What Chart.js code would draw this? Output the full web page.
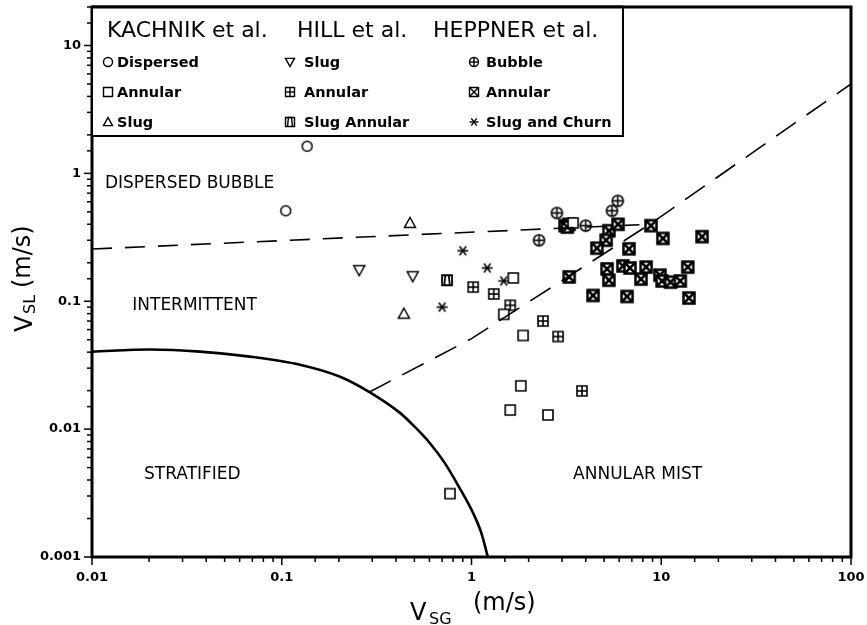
<!DOCTYPE html>
<html>
<head>
<meta charset="utf-8">
<script src="https://cdn.jsdelivr.net/npm/chart.js@4.4.1/dist/chart.umd.min.js"></script>
<style>
  body { margin: 0; background: #fff; }
  #wrap { width: 867px; height: 625px; }
</style>
</head>
<body>
<div id="wrap"><canvas id="mapa" width="867" height="625"></canvas></div>
<script>
// puntos [Vsg, Vsl] en m/s
const kachnikDispersed = [[0.136, 1.63], [0.105, 0.51]];
const kachnikAnnular = [[1.66, 0.152], [1.48, 0.079], [1.87, 0.054], [1.82, 0.0218], [1.60, 0.0141], [2.53, 0.0129], [0.77, 0.00313], [3.43, 0.41]];
const kachnikSlug = [[0.474, 0.41], [0.44, 0.080]];
const hillSlug = [[0.256, 0.175], [0.49, 0.157]];
const hillAnnular = [[1.02, 0.129], [1.31, 0.114], [1.60, 0.093], [2.38, 0.070], [2.86, 0.053], [3.82, 0.0199]];
const hillSlugAnnular = [[0.743, 0.146]];
const hillSlugChurn = [[0.90, 0.248], [1.21, 0.182], [1.48, 0.144], [0.70, 0.090]];
const heppnerBubble = [[2.82, 0.49], [5.5, 0.51], [5.9, 0.61], [4.0, 0.39], [2.27, 0.30]];
const heppnerAnnular = [[3.11, 0.39], [3.27, 0.40], [3.2, 0.38], [5.30, 0.356], [5.92, 0.40], [5.12, 0.30], [4.58, 0.26],
  [8.83, 0.39], [6.76, 0.257], [10.2, 0.31], [16.4, 0.32], [3.27, 0.155], [5.18, 0.179], [5.30, 0.146], [6.28, 0.189],
  [6.84, 0.182], [8.32, 0.185], [7.82, 0.149], [9.84, 0.160], [10.1, 0.144], [11.2, 0.141], [12.6, 0.144], [13.8, 0.185],
  [4.37, 0.111], [6.60, 0.109], [14.0, 0.106]];

// fronteras entre regimenes
const bubbleLimit = [[0.01, 0.256], [8.7, 0.40]];
const annularLimit = [[0.29, 0.0195], [1.0, 0.051], [8.7, 0.40], [100, 5.0]];
const stratLimit = [[0.01, 0.0404], [0.0202, 0.0419], [0.0371, 0.0404], [0.0681, 0.0369], [0.1247, 0.0319], [0.203, 0.0257],
  [0.29, 0.0195], [0.42, 0.0134], [0.503, 0.0104], [0.604, 0.00776], [0.725, 0.0054], [0.869, 0.00343],
  [1.018, 0.00222], [1.122, 0.00157], [1.22, 0.001]];

const xTicks = [0.01, 0.1, 1, 10, 100];
const xTickLabels = ['0.01', '0.1', '1', '10', '100'];
const yTicks = [0.001, 0.01, 0.1, 1, 10];
const yTickLabels = ['0.001', '0.01', '0.1', '1', '10'];

const regionLabels = [
  { text: 'DISPERSED BUBBLE', x: 0.0117, y: 0.773 },
  { text: 'INTERMITTENT', x: 0.0163, y: 0.0847 },
  { text: 'STRATIFIED', x: 0.0188, y: 0.00406 },
  { text: 'ANNULAR MIST', x: 3.43, y: 0.00406 }
];

const toXY = arr => arr.map(([x, y]) => ({ x, y }));
const isMajor = v => Math.abs(Math.log10(v) - Math.round(Math.log10(v))) < 1e-6;
function tickLabel(v, ticks, labels) {
  const i = ticks.findIndex(t => Math.abs(t - v) / t < 1e-6);
  return i >= 0 ? labels[i] : '';
}

// simbolos
function marker(kind, s, lw) {
  const n = Math.ceil(s + lw * 2 + 4);
  const c = document.createElement('canvas');
  c.width = n; c.height = n;
  const g = c.getContext('2d');
  const m = n / 2, h = s / 2;
  g.strokeStyle = '#000'; g.fillStyle = '#fff'; g.lineWidth = lw;
  g.lineJoin = 'miter';
  const seg = (x1, y1, x2, y2) => { g.beginPath(); g.moveTo(x1, y1); g.lineTo(x2, y2); g.stroke(); };
  if (kind === 'circle' || kind === 'circlePlus') {
    g.beginPath(); g.arc(m, m, h, 0, Math.PI * 2); g.fill(); g.stroke();
    if (kind === 'circlePlus') { seg(m - h, m, m + h, m); seg(m, m - h, m, m + h); }
  } else if (kind === 'triUp' || kind === 'triDown') {
    const d = kind === 'triUp' ? 1 : -1;
    g.beginPath();
    g.moveTo(m, m - d * h); g.lineTo(m + h, m + d * h * 0.8); g.lineTo(m - h, m + d * h * 0.8); g.closePath();
    g.fill(); g.stroke();
  } else if (kind === 'star') {
    const r = h;
    seg(m - r, m, m + r, m);
    seg(m - r * 0.6, m - r * 0.8, m + r * 0.6, m + r * 0.8);
    seg(m - r * 0.6, m + r * 0.8, m + r * 0.6, m - r * 0.8);
  } else {
    g.beginPath(); g.rect(m - h, m - h, s, s); g.fill(); g.stroke();
    if (kind === 'squarePlus') { seg(m - h, m, m + h, m); seg(m, m - h, m, m + h); }
    if (kind === 'squareX') { seg(m - h, m - h, m + h, m + h); seg(m - h, m + h, m + h, m - h); }
    if (kind === 'squareTri') {
      g.beginPath(); g.moveTo(m - h * 0.55, m + h); g.lineTo(m - h * 0.35, m - h); g.lineTo(m + h * 0.35, m - h); g.lineTo(m + h * 0.55, m + h); g.stroke();
    }
  }
  return c;
}

const series = [
  { data: kachnikDispersed, kind: 'circle', s: 10, lw: 1.5 },
  { data: kachnikAnnular, kind: 'square', s: 10, lw: 1.6 },
  { data: kachnikSlug, kind: 'triUp', s: 11, lw: 1.5 },
  { data: hillSlug, kind: 'triDown', s: 11, lw: 1.5 },
  { data: hillAnnular, kind: 'squarePlus', s: 10, lw: 1.6 },
  { data: hillSlugAnnular, kind: 'squareTri', s: 10, lw: 1.8 },
  { data: hillSlugChurn, kind: 'star', s: 11, lw: 1.6 },
  { data: heppnerBubble, kind: 'circlePlus', s: 11, lw: 1.6 },
  { data: heppnerAnnular, kind: 'squareX', s: 11, lw: 2.5 }
];

const lineSets = [
  { data: toXY(stratLimit), borderColor: '#000', borderWidth: 2.6, showLine: true, pointRadius: 0, cubicInterpolationMode: 'monotone', fill: false },
  { data: toXY(bubbleLimit), borderColor: '#000', borderWidth: 1.6, borderDash: [20, 13], showLine: true, pointRadius: 0, fill: false },
  { data: toXY(annularLimit), borderColor: '#000', borderWidth: 1.6, borderDash: [24, 13], showLine: true, pointRadius: 0, fill: false }
];

const pointSets = series.map(s => ({
  data: toXY(s.data),
  pointStyle: marker(s.kind, s.s, s.lw),
  pointRadius: 6,
  showLine: false
}));

const legendCols = [
  { head: 'KACHNIK et al.', hx: 107, sx: 108, tx: 117, items: [['circle', 'Dispersed'], ['square', 'Annular'], ['triUp', 'Slug']] },
  { head: 'HILL et al.', hx: 297, sx: 290, tx: 304, items: [['triDown', 'Slug'], ['squarePlus', 'Annular'], ['squareTri', 'Slug Annular']] },
  { head: 'HEPPNER et al.', hx: 433, sx: 474, tx: 486, items: [['circlePlus', 'Bubble'], ['squareX', 'Annular'], ['star', 'Slug and Churn']] }
];

const decor = {
  id: 'decor',
  afterDraw(chart) {
    const { ctx, chartArea: a, scales: { x, y } } = chart;
    ctx.save();
    ctx.strokeStyle = '#000';
    ctx.fillStyle = '#000';
    const seg = (x1, y1, x2, y2) => { ctx.beginPath(); ctx.moveTo(x1, y1); ctx.lineTo(x2, y2); ctx.stroke(); };
    // marcas de los ejes
    ctx.lineWidth = 1.5;
    x.ticks.forEach(t => {
      const px = x.getPixelForValue(t.value);
      seg(px, a.bottom, px, a.bottom + (isMajor(t.value) ? 8 : 5));
    });
    y.ticks.forEach(t => {
      const py = y.getPixelForValue(t.value);
      seg(a.left, py, a.left - (isMajor(t.value) ? 8 : 5), py);
    });
    // marco
    ctx.lineWidth = 3;
    ctx.strokeRect(a.left, a.top, a.right - a.left, a.bottom - a.top);
    // regiones
    ctx.font = '17px "DejaVu Sans"';
    ctx.textBaseline = 'alphabetic';
    regionLabels.forEach(r => ctx.fillText(r.text, x.getPixelForValue(r.x), y.getPixelForValue(r.y)));
    // leyenda
    const bx = a.left, by = a.top, bw = 531, bh = 129;
    ctx.fillStyle = '#fff';
    ctx.fillRect(bx, by, bw, bh);
    ctx.lineWidth = 2;
    ctx.strokeRect(bx, by, bw, bh);
    ctx.lineWidth = 3;
    seg(a.left, by, bx + bw, by);
    ctx.fillStyle = '#000';
    ctx.font = '22px "DejaVu Sans"';
    legendCols.forEach(col => ctx.fillText(col.head, col.hx, 37));
    ctx.font = 'bold 14.5px "DejaVu Sans"';
    ctx.textBaseline = 'middle';
    legendCols.forEach(col => {
      col.items.forEach(([kind, label], i) => {
        const cy = 62 + i * 30;
        const img = marker(kind, 9, 1.4);
        ctx.drawImage(img, col.sx - img.width / 2, cy - img.height / 2);
        ctx.fillText(label, col.tx, cy + 1);
      });
    });
    // titulos de ejes
    ctx.textBaseline = 'alphabetic';
    ctx.font = '24px "DejaVu Sans"';
    ctx.fillText('V', 410, 620);
    ctx.fillText('(m/s)', 473, 610);
    ctx.font = '16px "DejaVu Sans"';
    ctx.fillText('SG', 429, 624);
    ctx.save();
    ctx.translate(32, 332);
    ctx.rotate(-Math.PI / 2);
    ctx.font = '24px "DejaVu Sans"';
    ctx.fillText('V', 0, 0);
    ctx.fillText('(m/s)', 44, -2);
    ctx.font = '16px "DejaVu Sans"';
    ctx.fillText('SL', 18, 3);
    ctx.restore();
    ctx.restore();
  }
};

new Chart(document.getElementById('mapa'), {
  type: 'scatter',
  data: { datasets: [...lineSets, ...pointSets] },
  options: {
    responsive: false,
    animation: false,
    events: [],
    layout: { padding: { top: 6, right: 16, left: 0, bottom: 0 } },
    plugins: { legend: { display: false }, tooltip: { enabled: false } },
    scales: {
      x: {
        type: 'logarithmic', min: 0.01, max: 100,
        grid: { display: false, drawTicks: false }, border: { display: false },
        afterFit: s => { s.height = 68; s.paddingLeft = 0; s.paddingRight = 0; },
        ticks: {
          autoSkip: false, maxRotation: 0, padding: 13, color: '#000',
          font: { family: 'DejaVu Sans', size: 13, weight: 'bold' },
          callback: v => tickLabel(v, xTicks, xTickLabels)
        }
      },
      y: {
        type: 'logarithmic', min: 0.001, max: 20,
        grid: { display: false, drawTicks: false }, border: { display: false },
        afterFit: s => { s.width = 92; s.paddingTop = 0; s.paddingBottom = 0; },
        ticks: {
          autoSkip: false, padding: 11, color: '#000',
          font: { family: 'DejaVu Sans', size: 13, weight: 'bold' },
          callback: v => tickLabel(v, yTicks, yTickLabels)
        }
      }
    }
  },
  plugins: [decor]
});
</script>
</body>
</html>
